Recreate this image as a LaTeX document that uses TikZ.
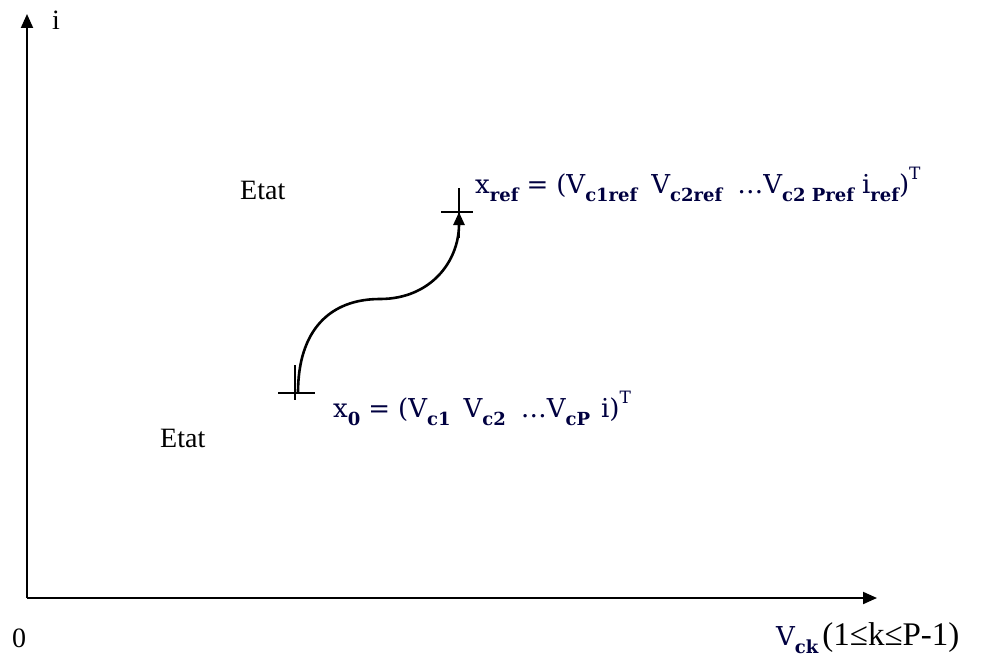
\documentclass[tikz,border=0pt]{standalone}
\usepackage{fontspec}
\setmainfont{Liberation Serif}
\newfontfamily\eqfont{DejaVu Serif}
\usetikzlibrary{arrows.meta}
\tikzset{
  axis/.style={line width=2pt,-{Triangle[length=14pt,width=12pt]}},
  cross/.style={line width=1.8pt},
  traj/.style={line width=2.6pt,-{Triangle[length=13pt,width=11pt]}},
  lbl/.style={font=\fontsize{28}{30}\selectfont,inner sep=0pt},
  eq/.style={font=\eqfont\fontsize{26}{28}\selectfont,inner sep=0pt,text=black!75!blue},
}
\newcommand{\sub}[1]{\raisebox{-0.3em}{\eqfont\fontsize{18}{18}\selectfont\bfseries #1}}
\newcommand{\sups}[1]{\raisebox{0.55em}{\eqfont\fontsize{17}{17}\selectfont #1}}
\newcommand{\eqs}{\hspace{8pt}=\hspace{8pt}}
\begin{document}
\begin{tikzpicture}[x=1pt,y=-1pt]
\useasboundingbox (0,0) rectangle (985,661);
% axes
\coordinate (O) at (27,598);
\coordinate (ytip) at (27,14);
\coordinate (xtip) at (877,598);
\draw[axis] (O) -- (ytip);
\draw[axis] (O) -- (xtip);
\node[lbl,anchor=west] (ilab) at (52,20) {i};
\node[lbl,anchor=west] (zero) at (12,638) {0};
\node[lbl,anchor=west,font=\fontsize{33}{35}\selectfont] (vck) at (776,638) {{\eqfont\fontsize{26}{28}\selectfont\color{black!75!blue}V\sub{ck}}\hspace{4pt}(1≤k≤P-1)};
% crosshairs
\coordinate (p0) at (295,393);
\coordinate (pr) at (459,212);
\draw[cross] (278,393) -- (315,393);
\draw[cross] (295,365) -- (295,400);
\draw[cross] (441,212) -- (473,212);
\draw[cross] (459,188) -- (459,238);
% trajectory
\coordinate (s) at (298,393);
\coordinate (m) at (380,299);
\draw[traj] (s) .. controls (298,330) and (330,299) .. (m)
  .. controls (430,299) and (459,262) .. (pr);
% labels
\node[lbl,anchor=west] (etat1) at (240,190) {Etat};
\node[lbl,anchor=west] (etat2) at (160,438) {Etat};
\node[eq,anchor=west] (x0) at (333,408) {x\sub{0}\eqs(V\sub{c1}\hspace{13pt}V\sub{c2}\hspace{15pt}\dots V\sub{cP}\hspace{11pt}i)\sups{T}};
\node[eq,anchor=west] (xref) at (475,184) {x\sub{ref}\eqs(V\sub{c1ref}\hspace{14pt}V\sub{c2ref}\hspace{15pt}\dots V\sub{c2 Pref}\hspace{8pt}i\sub{ref})\sups{T}};
\end{tikzpicture}
\end{document}
